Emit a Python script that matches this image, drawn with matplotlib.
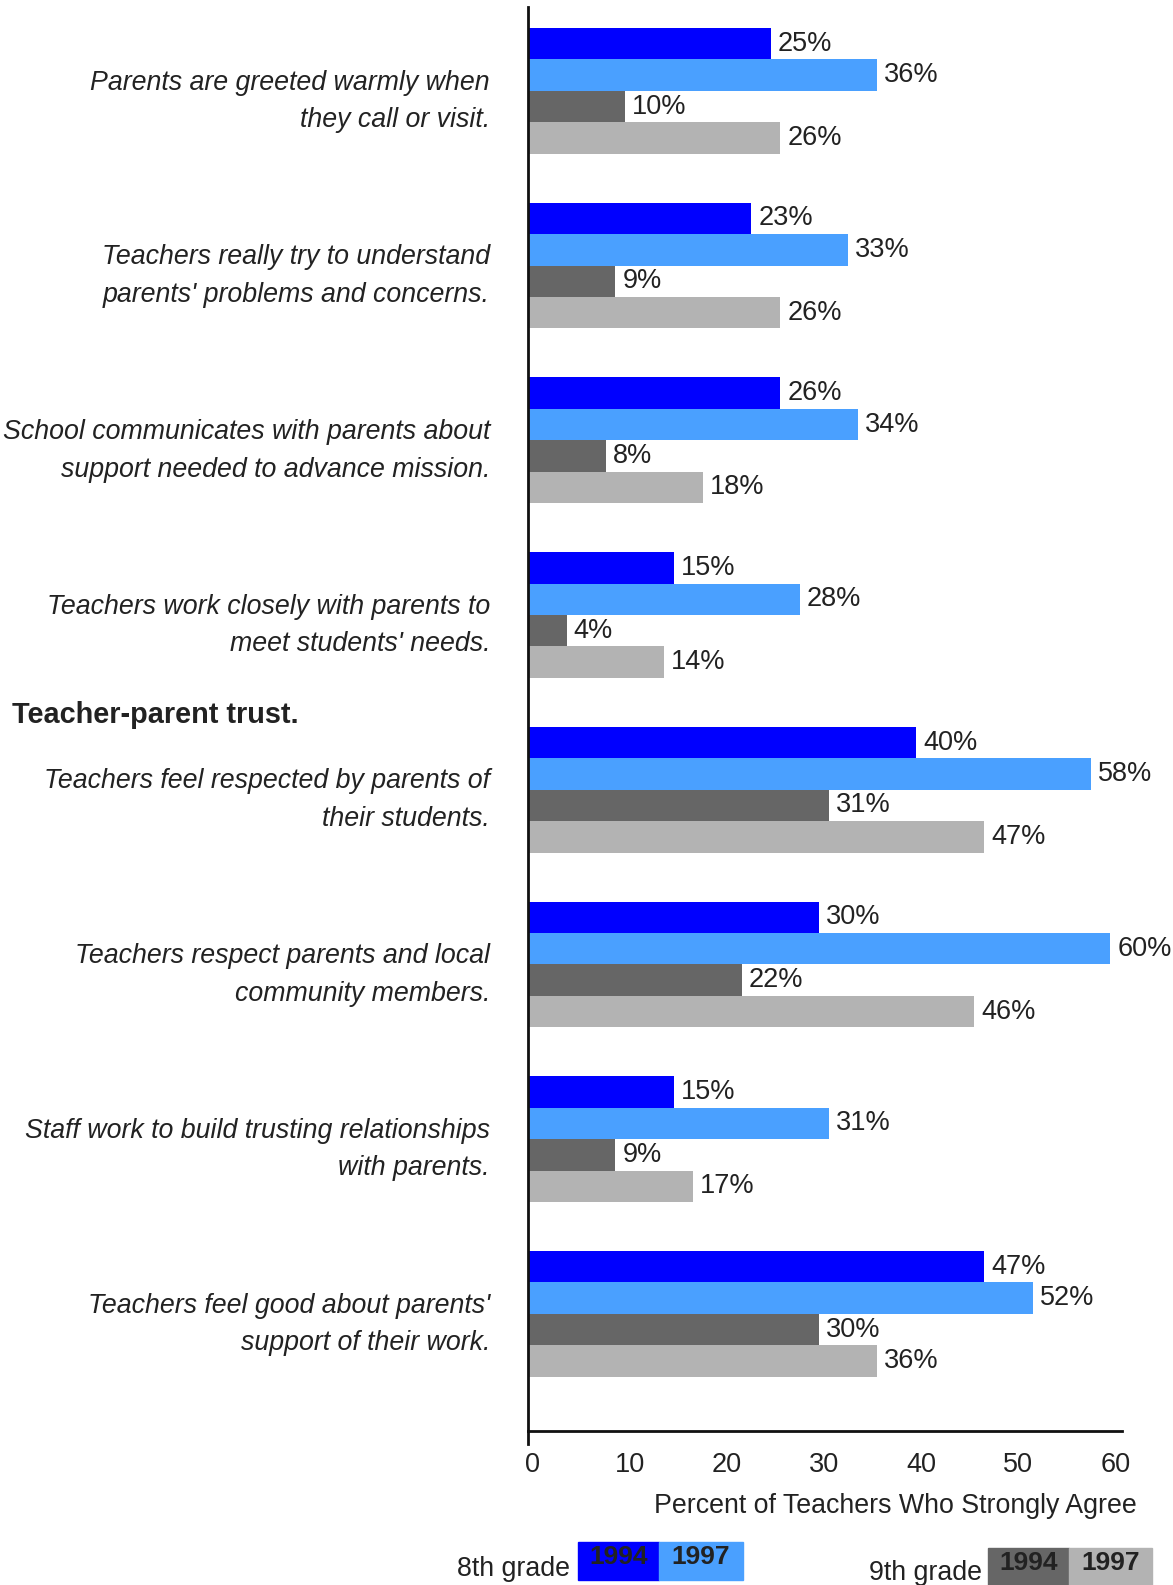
import matplotlib
matplotlib.use("Agg")
import matplotlib.pyplot as plt
import matplotlib.transforms as mtransforms
from matplotlib.patches import Rectangle
import numpy as np

plt.rcParams['font.family'] = ['Liberation Sans', 'DejaVu Sans']

statements = [
    "Parents are greeted warmly when\nthey call or visit.",
    "Teachers really try to understand\nparents' problems and concerns.",
    "School communicates with parents about\nsupport needed to advance mission.",
    "Teachers work closely with parents to\nmeet students' needs.",
    "Teachers feel respected by parents of\ntheir students.",
    "Teachers respect parents and local\ncommunity members.",
    "Staff work to build trusting relationships\nwith parents.",
    "Teachers feel good about parents'\nsupport of their work.",
]
grade8_1994 = [25, 23, 26, 15, 40, 30, 15, 47]
grade8_1997 = [36, 33, 34, 28, 58, 60, 31, 52]
grade9_1994 = [10, 9, 8, 4, 31, 22, 9, 30]
grade9_1997 = [26, 26, 18, 14, 47, 46, 17, 36]
x_ticks = [0, 10, 20, 30, 40, 50, 60]
section_title = "Teacher-parent trust."
x_title = "Percent of Teachers Who Strongly Agree"

series = [grade8_1994, grade8_1997, grade9_1994, grade9_1997]
colors = ["#0000FF", "#4AA0FF", "#666666", "#B3B3B3"]
TXT = "#222222"
FS = 19.3

W, H = 1173, 1585
fig = plt.figure(figsize=(W / 100, H / 100), dpi=100)
ax = fig.add_axes([528 / W, 1 - 1431 / H, (1122 - 528) / W, (1431 - 7) / H])

bar_h = 0.18
offsets = np.array([-1.5, -0.5, 0.5, 1.5]) * bar_h
idx = np.arange(len(statements))

for vals, col, off in zip(series, colors, offsets):
    ax.barh(idx + off, vals, height=bar_h, color=col, edgecolor='none')
    for i, v in enumerate(vals):
        ax.annotate(f"{v}%", (v, i + off), xytext=(5, 0), textcoords='offset points',
                    ha='left', va='center', fontsize=19.5, color=TXT)

ax.set_xlim(0, 61.2)
ax.set_ylim(len(statements) - 1 + 0.67, -0.48)

# statement labels to the left of the axis
blend = mtransforms.blended_transform_factory(fig.transFigure, ax.transData)
for i, s in enumerate(statements):
    ax.text(490 / W, i + 0.06, s, transform=blend, ha='right', va='center',
            multialignment='right', fontsize=FS, style='italic', color=TXT,
            linespacing=1.58)

ax.text(12 / W, 3.57, section_title, transform=blend, ha='left', va='center',
        fontsize=20.8, fontweight='bold', color=TXT)

for side in ['top', 'right']:
    ax.spines[side].set_visible(False)
for side in ['left', 'bottom']:
    ax.spines[side].set_linewidth(2)
    ax.spines[side].set_color('#111111')
ax.plot([0, 0], [len(statements) - 1 + 0.67, len(statements) - 1 + 0.745],
        color='#111111', lw=2, clip_on=False)

ax.set_yticks([])
ax.set_xticks(x_ticks)
ax.set_xticklabels([str(t) for t in x_ticks])
ax.tick_params(axis='x', length=0, pad=15, labelsize=19.5, labelcolor=TXT)
shift = mtransforms.ScaledTranslation(5 / 100, 0, fig.dpi_scale_trans)
for lab in ax.get_xticklabels():
    lab.set_transform(lab.get_transform() + shift)

fig.text(1137 / W, 1 - 1506 / H, x_title, ha='right', va='center',
         fontsize=FS, color=TXT)

# grade legends drawn as colored boxes with year labels
def legend_block(label, x_text, y_text, boxes):
    fig.text(x_text / W, 1 - y_text / H, label, ha='right', va='center',
             fontsize=FS, color=TXT)
    for (x0, x1, y0, y1, col, yr) in boxes:
        fig.patches.append(Rectangle((x0 / W, 1 - y1 / H), (x1 - x0) / W, (y1 - y0) / H,
                                     transform=fig.transFigure, color=col, zorder=1))
        fig.text((x0 + x1) / 2 / W, 1 - (y0 + y1 - 8) / 2 / H, yr, ha='center',
                 va='center', fontsize=19, fontweight='bold', color=TXT, zorder=2)

legend_block("8th grade", 570, 1569,
             [(578, 659, 1542, 1580, colors[0], "1994"),
              (659, 743, 1542, 1580, colors[1], "1997")])
legend_block("9th grade", 982, 1573,
             [(988, 1069, 1548, 1585, colors[2], "1994"),
              (1069, 1152, 1548, 1585, colors[3], "1997")])

fig.savefig("out.png", dpi=100, facecolor='white')
